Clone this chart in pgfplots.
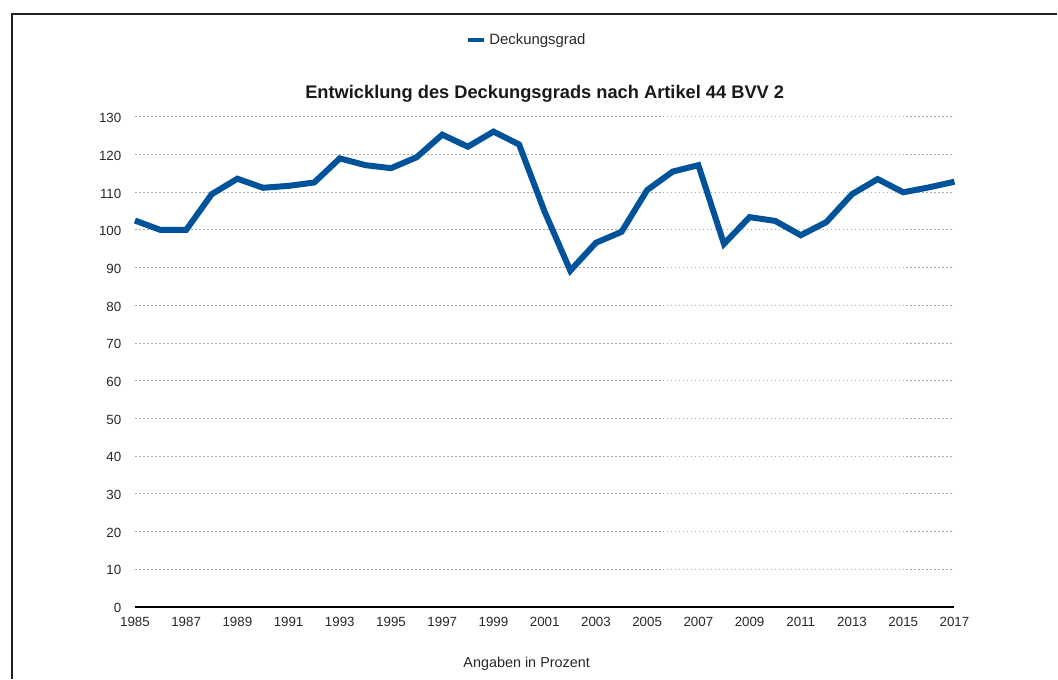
\documentclass[border=0pt]{standalone}
\usepackage{pgfplots}
\pgfplotsset{compat=1.18}
\usepackage{fontspec}
\setmainfont{Liberation Sans}
\definecolor{dgblue}{RGB}{0,83,155}
\definecolor{framegray}{RGB}{35,31,32}
\definecolor{ticktext}{RGB}{40,40,40}

\pgfplotstableread{
year value
1985 102.5
1986 100.0
1987 100.0
1988 109.5
1989 113.6
1990 111.2
1991 111.7
1992 112.6
1993 119.0
1994 117.2
1995 116.4
1996 119.3
1997 125.3
1998 122.1
1999 126.1
2000 122.7
2001 104.8
2002 89.2
2003 96.6
2004 99.5
2005 110.6
2006 115.5
2007 117.2
2008 96.3
2009 103.4
2010 102.4
2011 98.6
2012 102.1
2013 109.5
2014 113.5
2015 110.0
2016 111.3
2017 112.8
}\deckung

\begin{document}
\begin{tikzpicture}
% page extent and outer frame
\path (0pt,0pt) rectangle (793.5pt,-509.25pt);
\draw[framegray, line width=0.9pt] (9pt,-509.25pt) -- (9pt,-10.5pt) -- (793.5pt,-10.5pt);

\begin{axis}[
  at={(101.25pt,-455.25pt)}, anchor=origin,
  scale only axis,
  width=615pt, height=367.5pt,
  xmin=1985, xmax=2017,
  ymin=0, ymax=130,
  axis line style={draw=none},
  clip=false,
  xtick={1985,1987,...,2017},
  ytick={0,10,...,130},
  x tick label style={/pgf/number format/1000 sep={}},
  /pgf/number format/assume math mode=true,
  tick label style={font=\fontsize{10pt}{12pt}\selectfont, text=ticktext},
  xticklabel style={yshift=-4.2pt},
  yticklabel style={xshift=-6.7pt, yshift=-1pt},
  major tick length=0pt,
  tick style={draw=none},
  ymajorgrids,
  major grid style={gray!70, line width=0.7pt, dash pattern=on 1.4pt off 1.6pt},
  title={\textbf{Entwicklung des Deckungsgrads nach Artikel 44 BVV 2}},
  title style={font=\fontsize{13.7pt}{16pt}\selectfont, text=black!90, at={(rel axis cs:0.5,1.051)}, anchor=center, yshift=-7.5pt},
  xlabel={Angaben in Prozent},
  xlabel style={font=\fontsize{10.8pt}{12pt}\selectfont, text=ticktext, at={(rel axis cs:0.478,-0.116)}, anchor=center},
  legend style={at={(rel axis cs:0.478,1.157)}, anchor=center, draw=none, fill=none,
    font=\fontsize{11.2pt}{13pt}\selectfont, text=ticktext},
  legend image code/.code={\draw[line width=3.6pt] (0pt,0pt) -- (12.5pt,0pt);},
]
\addplot[dgblue, line width=4.5pt, line join=miter, miter limit=2] table[x=year, y=value] {\deckung};
\addlegendentry{Deckungsgrad}
\draw[black, line width=1.6pt] (axis cs:1985,0) -- (axis cs:2017,0);
\end{axis}
\end{tikzpicture}
\end{document}
